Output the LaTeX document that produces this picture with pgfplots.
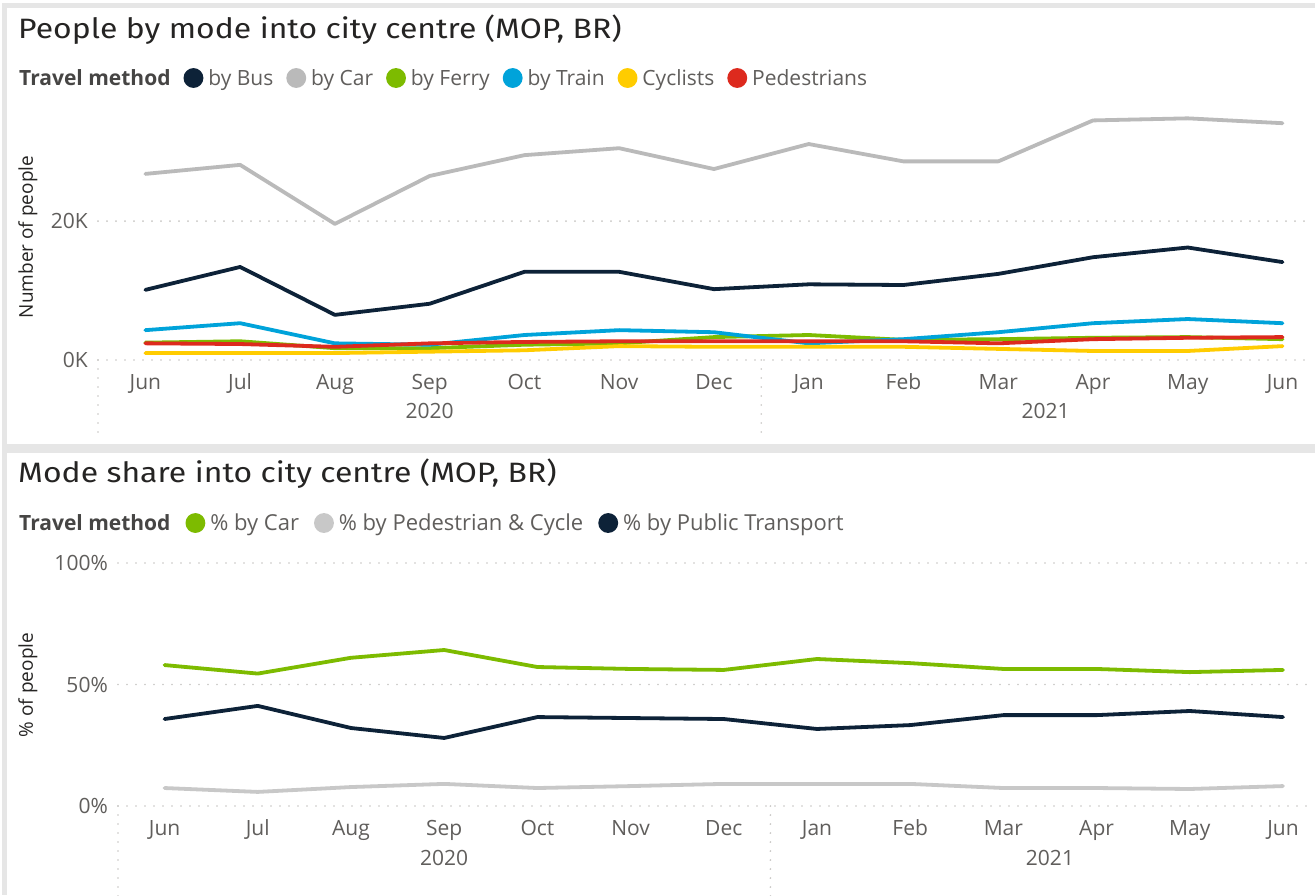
\documentclass[border=0pt]{standalone}
\usepackage{pgfplots}
\pgfplotsset{compat=1.18}
\usepackage{fontspec}
\setmainfont{Open Sans}
\newfontfamily\titlefont{Fira Sans}
\definecolor{cBus}{HTML}{0D2238}
\definecolor{cCar}{HTML}{BABABA}
\definecolor{cFerry}{HTML}{7DBB00}
\definecolor{cTrain}{HTML}{00A3DA}
\definecolor{cCyc}{HTML}{FFCC00}
\definecolor{cPed}{HTML}{DD2A1E}
\definecolor{cShare}{HTML}{C8C8C8}
\definecolor{txt}{HTML}{605E5C}
\definecolor{dark}{HTML}{252423}
\definecolor{gridc}{HTML}{C8C6C4}
\definecolor{framec}{HTML}{E6E6E6}

\pgfplotstableread{
x bus car ferry train cyc ped
0 10100 26800 2500 4300 1000 2400
1 13400 28100 2700 5300 1000 2300
2 6500 19600 1700 2400 1000 1900
3 8100 26500 1700 2200 1200 2400
4 12700 29500 2200 3600 1400 2600
5 12700 30500 2400 4300 2000 2700
6 10200 27500 3300 4000 1900 2700
7 10900 31100 3600 2400 1900 2700
8 10800 28600 2900 3000 1900 2700
9 12400 28600 3000 4000 1600 2400
10 14800 34500 3200 5300 1300 3000
11 16200 34800 3300 5900 1300 3200
12 14100 34100 3000 5300 2000 3300
}\people

\pgfplotstableread{
x car pedcyc pt
0 58.0 7.4 35.8
1 54.5 5.8 41.2
2 61.0 7.8 32.1
3 64.2 9.1 28.0
4 57.2 7.4 36.6
5 56.4 8.2 36.2
6 56.0 9.1 35.8
7 60.5 9.1 31.7
8 58.8 9.1 33.3
9 56.4 7.4 37.4
10 56.4 7.4 37.4
11 55.1 7.0 39.1
12 56.0 8.2 36.6
}\share

\tikzset{sepline/.style={gridc, line width=1.8pt, dash pattern=on 0pt off 9pt, line cap=round}}

\pgfplotsset{
  legend image code/.code={\fill[#1] (0pt,0pt) circle (8pt);},
  pbi/.style={
    scale only axis,
    axis line style={draw=none},
    major tick length=0pt,
    tick style={draw=none},
    scaled y ticks=false,
    xmin=-0.5, xmax=12.29,
    xtick={0,...,12},
    xticklabels={Jun,Jul,Aug,Sep,Oct,Nov,Dec,Jan,Feb,Mar,Apr,May,Jun},
    ymajorgrids,
    major grid style={gridc, line width=1.8pt, dash pattern=on 0pt off 9pt, line cap=round},
    ticklabel style={font=\fontsize{21}{24}\selectfont, text=txt},
    yticklabel style={anchor=east, inner sep=0pt, xshift=-10pt},
    xticklabel style={anchor=base, inner sep=0pt, yshift=-29pt},
    clip=false,
    legend columns=-1,
    legend cell align=left,
    legend style={draw=none, fill=none, inner sep=0pt, anchor=west,
      font=\fontsize{21}{24}\selectfont, text=txt,
      nodes={inner xsep=2pt, inner ysep=0pt},
      /tikz/every odd column/.append style={column sep=3pt},
      /tikz/every even column/.append style={column sep=10pt}},
    every axis plot/.append style={line width=3.8pt, line join=round, line cap=round},
  },
}

\begin{document}
\begin{tikzpicture}
\useasboundingbox (0pt,0pt) rectangle (1315pt,-895pt);
\fill[white] (0pt,0pt) rectangle (1315pt,-895pt);
\fill[framec] (2pt,-3pt) rectangle (1315pt,-895pt);
\fill[white] (7pt,-8pt) rectangle (1315pt,-444pt);
\fill[white] (7pt,-453pt) rectangle (1315pt,-895pt);

\node[anchor=base west, inner sep=0pt, font=\titlefont\fontsize{28}{32}\selectfont, text=dark] at (18pt,-38pt) {\scalebox{1.14}[1]{People by mode into city centre (MOP, BR)}};
\node[anchor=base west, inner sep=0pt, font=\titlefont\fontsize{28}{32}\selectfont, text=dark] at (18pt,-482pt) {\scalebox{1.14}[1]{Mode share into city centre (MOP, BR)}};

\begin{axis}[pbi,
  at={(98pt,-360pt)}, anchor=south west,
  width=1212pt, height=250pt,
  ymin=0, ymax=36000,
  ytick={0,20000}, yticklabels={0K,20K},
  every axis y label/.style={at={(axis description cs:-0.0578,0.492)}, rotate=90, anchor=center, font=\fontsize{19}{22}\selectfont, text=dark},
  ylabel={Number of people},
  legend style={at={(axis description cs:-0.0693,1.128)},
    /tikz/every even column/.append style={column sep=11pt}},
]
\addlegendimage{empty legend}
\addlegendentry{\textbf{\color{dark!85}Travel method}}
\addplot[cBus] table[x=x,y=bus] {\people};
\addlegendentry{by Bus}
\addplot[cCar] table[x=x,y=car] {\people};
\addlegendentry{by Car}
\addplot[cFerry] table[x=x,y=ferry] {\people};
\addlegendentry{by Ferry}
\addplot[cTrain] table[x=x,y=train] {\people};
\addlegendentry{by Train}
\addplot[cCyc] table[x=x,y=cyc] {\people};
\addlegendentry{Cyclists}
\addplot[cPed] table[x=x,y=ped] {\people};
\addlegendentry{Pedestrians}
\draw[sepline] (axis cs:-0.5,0) -- ++(0pt,-72pt);
\draw[sepline] (axis cs:6.5,0) -- ++(0pt,-72pt);
\node[anchor=base, inner sep=0pt, font=\fontsize{21}{24}\selectfont, text=txt, yshift=-58pt] at (axis cs:3,0) {2020};
\node[anchor=base, inner sep=0pt, font=\fontsize{21}{24}\selectfont, text=txt, yshift=-58pt] at (axis cs:9.5,0) {2021};
\end{axis}

\begin{axis}[pbi,
  at={(118pt,-806pt)}, anchor=south west,
  width=1192pt, height=243pt,
  ymin=0, ymax=100,
  ytick={0,50,100}, yticklabels={0\%,50\%,100\%},
  every axis y label/.style={at={(axis description cs:-0.0755,0.498)}, rotate=90, anchor=center, font=\fontsize{19}{22}\selectfont, text=dark},
  ylabel={\% of people},
  legend style={at={(axis description cs:-0.0873,1.1646)},
    font=\fontsize{22}{25}\selectfont,
    /tikz/every even column/.append style={column sep=13pt}},
]
\addlegendimage{empty legend}
\addlegendentry{\fontsize{21}{24}\selectfont\textbf{\color{dark!85}Travel method}}
\addplot[cFerry] table[x=x,y=car] {\share};
\addlegendentry{\% by Car}
\addplot[cShare] table[x=x,y=pedcyc] {\share};
\addlegendentry{\% by Pedestrian \& Cycle}
\addplot[cBus] table[x=x,y=pt] {\share};
\addlegendentry{\% by Public Transport}
\draw[sepline] (axis cs:-0.5,0) -- ++(0pt,-90pt);
\draw[sepline] (axis cs:6.5,0) -- ++(0pt,-90pt);
\node[anchor=base, inner sep=0pt, font=\fontsize{21}{24}\selectfont, text=txt, yshift=-59pt] at (axis cs:3,0) {2020};
\node[anchor=base, inner sep=0pt, font=\fontsize{21}{24}\selectfont, text=txt, yshift=-59pt] at (axis cs:9.5,0) {2021};
\end{axis}
\end{tikzpicture}
\end{document}
